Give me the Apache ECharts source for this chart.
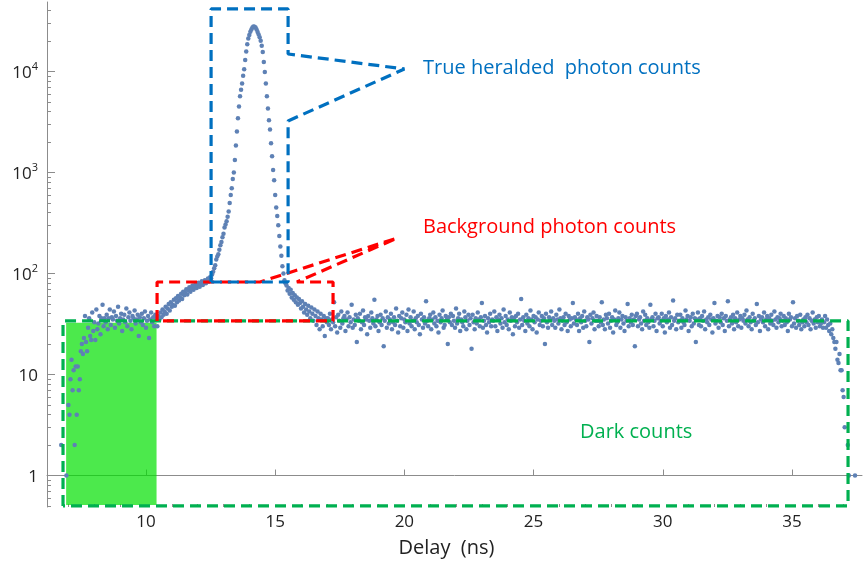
<!DOCTYPE html>
<html>
<head>
<meta charset="utf-8">
<title>Delay histogram</title>
<script src="https://cdn.jsdelivr.net/npm/echarts@6/dist/echarts.min.js"></script>
<style>
  html, body { margin: 0; padding: 0; background: #fff; }
  #chart { width: 863px; height: 581px; }
</style>
</head>
<body>
<div id="chart"></div>
<script>
// bin width of the histogram (ns)
const binWidth = 0.04;

// counts per bin, one array per stretch of the trace
const riseStart = 6.72;
const riseCounts = [2,0,0,0,0, 1,0,5,4,9, 14,7,11,2,12, 4,12,7,9,17, 20,16,23,38,21,
  17,29,36,24,22, 41,27,33,22,44, 28,32,38,25,36, 49,30,36];

const plateauStart = 8.44;
const plateauCounts = [33,39,28,36,44,31,37,35,42,29, 38,34,47,32,36,40,27,35,39,33,
  45,30,37,41,34,28,38,36,43,32, 35,39,24,37,33,40,31,36,42,29, 34,38,23,35,41,33,37,30,39,36];

const shoulderStart = 10.44;
const shoulderCounts = [30,38,35,41,37,44,39,42,47,40, 45,50,43,52,47,49,55,48,57,52,
  60,54,58,63,56,66,61,64,70,62, 68,73,66,71,76,69,74,79,72,77, 81,74,79,84,77,82,86,80,85,89, 83,92];

const peakStart = 12.52;
const peakCounts = [90,98,104,113,121,138,147,155,172,190,
  205,228,248,285,305,330,365,410,500,600,
  700,860,1000,1330,1850,2550,3450,4500,5700,6600,
  7600,9100,10500,13000,15800,18600,21200,23000,24700,26000,
  27200,27900,27800,27300,26000,24600,23200,21800,20200,18000,
  15600,12400,9900,7600,5700,4300,3300,2660,1950,1450,
  1060,840,600,450,370,300,235,185,150,118,
  100,86,80];

const tailStart = 15.44;
const tailCounts = [76,68,72,63,69,58,64,55,61,52, 58,49,56,51,45,53,47,41,50,44,
  39,48,42,36,46,40,34,44,38,31, 42,36,28,40,35,30,38,24,36,33];

const flatStart = 17.04;
const flatCounts = [
  36,31,40,28,35,33,52,30,37,26,39,34,29,42,32,36,38,27,35,41,
  30,37,33,49,29,35,31,39,21,36,34,40,28,33,43,31,37,35,25,38,
  34,29,41,36,32,55,30,35,38,27,33,39,31,36,19,34,42,29,37,32,
  35,40,28,33,37,31,45,34,26,38,30,36,41,29,35,33,39,27,44,32,
  37,30,34,42,28,36,33,38,31,25,40,35,29,37,32,53,34,30,36,39,
  28,35,41,32,37,30,34,26,39,33,36,43,29,31,38,35,20,37,33,40,
  31,38,34,29,45,32,36,40,27,35,33,30,42,37,28,34,39,31,36,18,
  39,33,28,36,32,41,35,30,37,51,29,34,38,31,26,36,33,40,30,35,
  34,42,30,37,27,35,39,32,36,29,44,33,38,31,35,28,41,34,37,25,
  36,30,38,33,40,29,35,56,31,37,34,27,39,32,36,30,43,35,28,38,
  33,37,26,35,41,31,34,38,30,36,20,40,33,29,37,35,42,31,36,34,
  29,39,35,32,44,36,28,34,37,31,40,33,27,38,35,30,36,51,32,37,
  35,31,40,27,36,33,38,29,42,34,30,37,35,21,39,32,36,41,28,34,
  38,34,30,37,33,52,31,35,28,39,36,32,40,29,34,37,26,35,43,31,
  33,36,41,29,35,38,32,27,37,34,50,30,36,33,39,31,35,19,38,40,
  30,35,37,32,28,42,34,39,31,36,33,29,49,35,37,30,34,40,27,36,
  37,32,34,40,30,36,26,38,33,35,41,29,37,31,54,34,36,28,39,33,
  34,39,29,36,33,31,43,35,38,27,34,37,30,40,32,36,21,35,41,31,
  36,30,38,34,42,28,35,33,37,31,39,35,26,36,51,32,34,38,29,37,
  33,40,31,36,27,38,34,53,30,35,37,32,39,28,36,33,41,30,35,38,
  29,36,34,39,32,43,35,30,37,33,28,40,34,36,31,50,33,38,27,35,
  37,33,41,30,35,38,28,36,32,39,34,31,42,35,29,37,33,36,40,30,
  34,38,31,36,33,27,40,35,37,30,52,32,36,29,38,34,31,39,28,33,
  35,30,37,33,39,31,36,28,34,41,32,35,29,37,33,38,30,32,35,29
];

const edgeStart = 36.24;
const edgeCounts = [33,38,29,35,31,27,32,25,28,23, 21,18,21,14,13,16,11,11,7,6,
  3,0,0,2,1,0,0,0,0,0, 1];

// axis ticks
const xMajorTicks = [10, 15, 20, 25, 30, 35];
const xMinorTicks = [7,8,9,11,12,13,14,16,17,18,19,21,22,23,24,26,27,28,29,31,32,33,34,36,37];
const yMinorTicks = [0.5,0.6,0.7,0.8,0.9, 2,3,4,5,6,7,8,9, 20,30,40,50,60,70,80,90,
  200,300,400,500,600,700,800,900, 2000,3000,4000,5000,6000,7000,8000,9000, 20000,30000,40000];

// hand-drawn annotation outlines, in data coordinates (ns, counts)
const trueBox = [[12.52,82.4],[12.52,41600],[15.5,41600],[15.5,14900],[20.0,10600],[15.5,3240],[15.5,82.4],[12.52,82.4]];
const backgroundBox = [[10.43,33.9],[10.43,82.4],[14.41,82.4],[19.71,224],[15.84,82.4],[17.24,82.4],[17.24,33.9],[10.43,33.9]];
const darkBox = [[6.79,0.5],[6.79,33.9],[37.17,33.9],[37.17,0.5],[6.79,0.5]];
const darkFill = [[6.91,32.6],[10.41,0.51]];

const xMin = 6.17, xMax = 37.71;
const yMin = 0.488, yMax = 48750;
const FONT = '"Open Sans", Lato, sans-serif';

function binPoints(start, counts) {
  return counts
    .map((c, i) => [+(start + i * binWidth).toFixed(2), c])
    .filter(p => p[1] > 0);
}

const points = [].concat(
  binPoints(riseStart, riseCounts),
  binPoints(plateauStart, plateauCounts),
  binPoints(shoulderStart, shoulderCounts),
  binPoints(peakStart, peakCounts),
  binPoints(tailStart, tailCounts),
  binPoints(flatStart, flatCounts),
  binPoints(edgeStart, edgeCounts)
);

const chart = echarts.init(document.getElementById('chart'));

const axisGray = '#8c8c8c';

const dashedOutline = (data, color) => ({
  type: 'line',
  data,
  symbol: 'none',
  silent: true,
  z: 5,
  lineStyle: { color, width: 3.2, type: [11, 6] }
});

const option = {
  animation: false,
  grid: { left: 47, right: 1, top: 2, bottom: 74 },
  xAxis: [
    {
      type: 'value', min: xMin, max: xMax, position: 'bottom',
      axisLine: { lineStyle: { color: axisGray } },
      axisTick: { inside: true, length: 6, customValues: xMajorTicks, lineStyle: { color: axisGray } },
      axisLabel: { customValues: xMajorTicks, color: '#222', fontSize: 17, fontFamily: FONT, margin: 7 },
      splitLine: { show: false },
      name: 'Delay  (ns)', nameLocation: 'middle', nameGap: 31,
      nameTextStyle: { color: '#222', fontSize: 20, fontFamily: FONT, padding: [0, 16, 0, 0] }
    },
    {
      type: 'value', min: xMin, max: xMax, position: 'bottom',
      axisLine: { show: false },
      axisTick: { inside: true, length: 3, customValues: xMinorTicks, lineStyle: { color: axisGray } },
      axisLabel: { show: false },
      splitLine: { show: false }
    }
  ],
  yAxis: [
    {
      type: 'log', logBase: 10, min: yMin, max: yMax, position: 'left',
      axisLine: { show: true, lineStyle: { color: axisGray } },
      axisTick: { show: true, inside: true, length: 8, lineStyle: { color: axisGray } },
      minorTick: { show: false },
      axisLabel: {
        showMinLabel: false, showMaxLabel: false, margin: 9, color: '#222', fontFamily: FONT,
        formatter: v => {
          const e = Math.round(Math.log10(v));
          if (e === 0) return '{b|1}';
          if (e === 1) return '{b|10}';
          return '{b|10}{s|' + e + '}';
        },
        rich: {
          b: { fontSize: 17, lineHeight: 20, verticalAlign: 'bottom', color: '#222', fontFamily: FONT },
          s: { fontSize: 11, lineHeight: 10, verticalAlign: 'top', color: '#222', fontFamily: FONT }
        }
      },
      splitLine: { show: false }
    },
    {
      type: 'value', min: Math.log10(yMin), max: Math.log10(yMax), position: 'left',
      axisLine: { show: false },
      axisTick: { inside: true, length: 4, customValues: yMinorTicks.map(v => Math.log10(v)), lineStyle: { color: axisGray } },
      axisLabel: { show: false },
      splitLine: { show: false }
    }
  ],
  series: [
    {
      type: 'scatter',
      data: points,
      symbolSize: 4.5,
      itemStyle: { color: '#5E81B5', opacity: 1 },
      z: 2
    },
    {
      type: 'line',
      data: [],
      silent: true,
      z: 4,
      markArea: {
        silent: true,
        itemStyle: { color: 'rgba(0, 224, 0, 0.7)' },
        data: [[{ coord: darkFill[0] }, { coord: darkFill[1] }]]
      }
    },
    dashedOutline(darkBox, '#00B050'),
    dashedOutline(backgroundBox, '#FF0000'),
    dashedOutline(trueBox, '#0070C0')
  ],
  graphic: [
    { type: 'text', x: 423, y: 68, style: { text: 'True heralded  photon counts', fill: '#0070C0', font: '20px ' + FONT, verticalAlign: 'middle' } },
    { type: 'text', x: 423, y: 227, style: { text: 'Background photon counts', fill: '#FF0000', font: '20px ' + FONT, verticalAlign: 'middle' } },
    { type: 'text', x: 580, y: 432, style: { text: 'Dark counts', fill: '#00B050', font: '20px ' + FONT, verticalAlign: 'middle' } }
  ]
};

chart.setOption(option);
</script>
</body>
</html>
